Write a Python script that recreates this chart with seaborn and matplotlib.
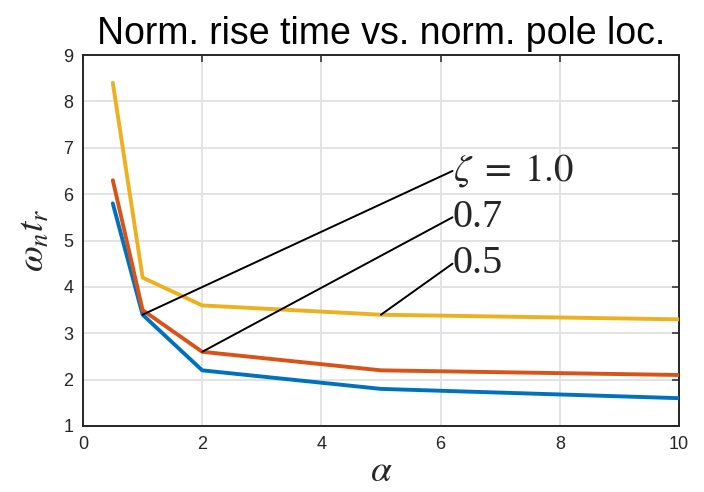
import matplotlib
matplotlib.use("Agg")
import matplotlib.pyplot as plt
import seaborn as sns
import pandas as pd

alpha = [0.5, 1, 2, 5, 10]
zeta_labels = ["0.5", "0.7", "1.0"]
rise_05 = [5.8, 3.4, 2.2, 1.8, 1.6]
rise_07 = [6.3, 3.5, 2.6, 2.2, 2.1]
rise_10 = [8.4, 4.2, 3.6, 3.4, 3.3]
x_ticks = [0, 2, 4, 6, 8, 10]
y_ticks = [1, 2, 3, 4, 5, 6, 7, 8, 9]
annot_texts = [r"$\zeta\;=\;1.0$", "0.7", "0.5"]
annot_from = [(1, 3.4), (2, 2.6), (5, 3.4)]
annot_to = [(6.2, 6.5), (6.2, 5.5), (6.2, 4.5)]

rows = []
for z, vals in zip(zeta_labels, [rise_05, rise_07, rise_10]):
    for a, v in zip(alpha, vals):
        rows.append({"alpha": a, "rise": v, "zeta": z})
df = pd.DataFrame(rows)

sns.set_style("white")
plt.rcParams["font.family"] = ["Liberation Sans", "DejaVu Sans"]
plt.rcParams["mathtext.fontset"] = "stix"

fig = plt.figure(figsize=(7.04, 4.92), dpi=100)
ax = fig.add_axes([83/704, 1-426/492, (679-83)/704, (426-55)/492])

palette = {"0.5": "#0072BD", "0.7": "#D95319", "1.0": "#EDB120"}
sns.lineplot(data=df, x="alpha", y="rise", hue="zeta", palette=palette,
             linewidth=2.8, legend=False, ax=ax, zorder=3)

for (x0, y0), (x1, y1), t in zip(annot_from, annot_to, annot_texts):
    ax.plot([x0, x1], [y0, y1], color="black", linewidth=1.4, zorder=4)
    if t.startswith("$"):
        ax.text(x1, y1, t, fontsize=28, ha="left", va="center", zorder=5)
    else:
        ax.text(x1, y1, t, fontsize=29, ha="left", va="center",
                family=["Liberation Serif"], zorder=5)

ax.set_xlim(0, 10)
ax.set_ylim(1, 9)
ax.set_xticks(x_ticks)
ax.set_yticks(y_ticks)
ax.grid(True, color="#e3e3e3", linewidth=1.4)
ax.set_axisbelow(True)
for s in ax.spines.values():
    s.set_visible(True)
    s.set_color("#262626")
    s.set_linewidth(1.4)
ax.tick_params(direction="in", length=5, width=1.1, color="#262626",
               labelsize=13, labelcolor="#262626", top=True, right=True,
               labeltop=False, labelright=False, pad=7)
ax.set_xlabel(r"$\alpha$", fontsize=27, labelpad=0)
ax.set_ylabel(r"$\omega_n t_r$", fontsize=27, labelpad=8)
ax.set_title("Norm. rise time vs. norm. pole loc.", fontsize=27, pad=8,
             color="black")

fig.savefig("out.png", dpi=100)
